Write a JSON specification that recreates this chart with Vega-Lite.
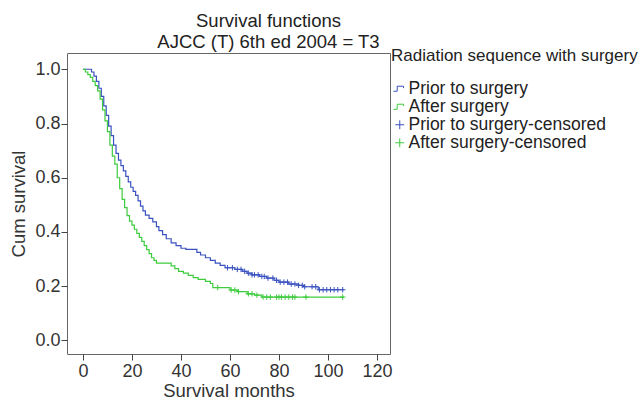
{
  "$schema": "https://vega.github.io/schema/vega-lite/v6.json",
  "autosize": {"type": "none"},
  "width": 323,
  "height": 301,
  "padding": {"left": 67, "top": 53, "right": 250, "bottom": 45},
  "background": "white",
  "config": {
    "font": "Liberation Sans",
    "view": {"stroke": "#666666", "strokeWidth": 1},
    "axis": {"grid": false, "domain": false, "tickColor": "#444444", "tickSize": 6, "labelColor": "#333333", "titleColor": "#333333", "labelFontSize": 18, "titleFontSize": 18.5, "titleFontWeight": "normal", "labelFont": "Liberation Sans", "titleFont": "Liberation Sans"}
  },
  "title": {
    "text": ["Survival functions", "AJCC (T) 6th ed 2004 = T3"],
    "fontSize": 18.5,
    "fontWeight": "normal",
    "color": "#222222",
    "lineHeight": 21,
    "anchor": "middle",
    "baseline": "bottom",
    "offset": 6,
    "dx": 40,
    "dy": 28
  },
  "datasets": {
    "curves": [
      {"series": "Prior to surgery", "t": 0, "s": 1.0},
      {"series": "Prior to surgery", "t": 3.5, "s": 0.99},
      {"series": "Prior to surgery", "t": 4.5, "s": 0.975},
      {"series": "Prior to surgery", "t": 5.5, "s": 0.955},
      {"series": "Prior to surgery", "t": 6.5, "s": 0.93},
      {"series": "Prior to surgery", "t": 7.5, "s": 0.9},
      {"series": "Prior to surgery", "t": 8.5, "s": 0.865},
      {"series": "Prior to surgery", "t": 9.5, "s": 0.83},
      {"series": "Prior to surgery", "t": 10.5, "s": 0.79},
      {"series": "Prior to surgery", "t": 11.5, "s": 0.755},
      {"series": "Prior to surgery", "t": 12.5, "s": 0.72},
      {"series": "Prior to surgery", "t": 13.5, "s": 0.69},
      {"series": "Prior to surgery", "t": 14.5, "s": 0.665},
      {"series": "Prior to surgery", "t": 15.5, "s": 0.645},
      {"series": "Prior to surgery", "t": 16.5, "s": 0.625},
      {"series": "Prior to surgery", "t": 17.5, "s": 0.605},
      {"series": "Prior to surgery", "t": 18.5, "s": 0.585},
      {"series": "Prior to surgery", "t": 19.5, "s": 0.565},
      {"series": "Prior to surgery", "t": 20.5, "s": 0.55},
      {"series": "Prior to surgery", "t": 21.5, "s": 0.535},
      {"series": "Prior to surgery", "t": 22.5, "s": 0.515},
      {"series": "Prior to surgery", "t": 23.5, "s": 0.495},
      {"series": "Prior to surgery", "t": 24.5, "s": 0.478},
      {"series": "Prior to surgery", "t": 25.5, "s": 0.462},
      {"series": "Prior to surgery", "t": 27, "s": 0.45},
      {"series": "Prior to surgery", "t": 28.5, "s": 0.437},
      {"series": "Prior to surgery", "t": 30, "s": 0.42},
      {"series": "Prior to surgery", "t": 31, "s": 0.405},
      {"series": "Prior to surgery", "t": 32.5, "s": 0.39},
      {"series": "Prior to surgery", "t": 34, "s": 0.375},
      {"series": "Prior to surgery", "t": 36, "s": 0.36},
      {"series": "Prior to surgery", "t": 38, "s": 0.35},
      {"series": "Prior to surgery", "t": 40, "s": 0.34},
      {"series": "Prior to surgery", "t": 42, "s": 0.336},
      {"series": "Prior to surgery", "t": 46.5, "s": 0.325},
      {"series": "Prior to surgery", "t": 48, "s": 0.315},
      {"series": "Prior to surgery", "t": 50, "s": 0.305},
      {"series": "Prior to surgery", "t": 52, "s": 0.295},
      {"series": "Prior to surgery", "t": 54, "s": 0.285},
      {"series": "Prior to surgery", "t": 56, "s": 0.277},
      {"series": "Prior to surgery", "t": 58, "s": 0.268},
      {"series": "Prior to surgery", "t": 62, "s": 0.262},
      {"series": "Prior to surgery", "t": 65, "s": 0.255},
      {"series": "Prior to surgery", "t": 67, "s": 0.248},
      {"series": "Prior to surgery", "t": 69, "s": 0.242},
      {"series": "Prior to surgery", "t": 72, "s": 0.236},
      {"series": "Prior to surgery", "t": 75, "s": 0.23},
      {"series": "Prior to surgery", "t": 78, "s": 0.222},
      {"series": "Prior to surgery", "t": 80, "s": 0.215},
      {"series": "Prior to surgery", "t": 84, "s": 0.208},
      {"series": "Prior to surgery", "t": 88, "s": 0.203},
      {"series": "Prior to surgery", "t": 90, "s": 0.198},
      {"series": "Prior to surgery", "t": 96, "s": 0.187},
      {"series": "Prior to surgery", "t": 106.5, "s": 0.187},
      {"series": "After surgery", "t": 0, "s": 1.0},
      {"series": "After surgery", "t": 1, "s": 0.99},
      {"series": "After surgery", "t": 2, "s": 0.98},
      {"series": "After surgery", "t": 3, "s": 0.97},
      {"series": "After surgery", "t": 4, "s": 0.955},
      {"series": "After surgery", "t": 5, "s": 0.94},
      {"series": "After surgery", "t": 6, "s": 0.92},
      {"series": "After surgery", "t": 7, "s": 0.89},
      {"series": "After surgery", "t": 8, "s": 0.85},
      {"series": "After surgery", "t": 9, "s": 0.81},
      {"series": "After surgery", "t": 10, "s": 0.77},
      {"series": "After surgery", "t": 11, "s": 0.72},
      {"series": "After surgery", "t": 12, "s": 0.68},
      {"series": "After surgery", "t": 13, "s": 0.65},
      {"series": "After surgery", "t": 14, "s": 0.6},
      {"series": "After surgery", "t": 15, "s": 0.56},
      {"series": "After surgery", "t": 16, "s": 0.52},
      {"series": "After surgery", "t": 17, "s": 0.49},
      {"series": "After surgery", "t": 18, "s": 0.46},
      {"series": "After surgery", "t": 19, "s": 0.44},
      {"series": "After surgery", "t": 20, "s": 0.425},
      {"series": "After surgery", "t": 21, "s": 0.41},
      {"series": "After surgery", "t": 22, "s": 0.395},
      {"series": "After surgery", "t": 23, "s": 0.38},
      {"series": "After surgery", "t": 24, "s": 0.365},
      {"series": "After surgery", "t": 25, "s": 0.35},
      {"series": "After surgery", "t": 26, "s": 0.335},
      {"series": "After surgery", "t": 27, "s": 0.32},
      {"series": "After surgery", "t": 28, "s": 0.305},
      {"series": "After surgery", "t": 29, "s": 0.295},
      {"series": "After surgery", "t": 30, "s": 0.285},
      {"series": "After surgery", "t": 36, "s": 0.275},
      {"series": "After surgery", "t": 37.5, "s": 0.265},
      {"series": "After surgery", "t": 39, "s": 0.255},
      {"series": "After surgery", "t": 41, "s": 0.248},
      {"series": "After surgery", "t": 43, "s": 0.24},
      {"series": "After surgery", "t": 45, "s": 0.232},
      {"series": "After surgery", "t": 47, "s": 0.225},
      {"series": "After surgery", "t": 50, "s": 0.218},
      {"series": "After surgery", "t": 52, "s": 0.21},
      {"series": "After surgery", "t": 53, "s": 0.195},
      {"series": "After surgery", "t": 60, "s": 0.186},
      {"series": "After surgery", "t": 63, "s": 0.18},
      {"series": "After surgery", "t": 67, "s": 0.172},
      {"series": "After surgery", "t": 70, "s": 0.167},
      {"series": "After surgery", "t": 73, "s": 0.16},
      {"series": "After surgery", "t": 106.5, "s": 0.16}
    ],
    "censored": [
      {"series": "Prior to surgery-censored", "t": 59, "s": 0.268},
      {"series": "Prior to surgery-censored", "t": 61, "s": 0.268},
      {"series": "Prior to surgery-censored", "t": 63, "s": 0.262},
      {"series": "Prior to surgery-censored", "t": 64.5, "s": 0.262},
      {"series": "Prior to surgery-censored", "t": 66, "s": 0.255},
      {"series": "Prior to surgery-censored", "t": 67.5, "s": 0.248},
      {"series": "Prior to surgery-censored", "t": 69, "s": 0.242},
      {"series": "Prior to surgery-censored", "t": 70, "s": 0.242},
      {"series": "Prior to surgery-censored", "t": 71.5, "s": 0.242},
      {"series": "Prior to surgery-censored", "t": 73, "s": 0.236},
      {"series": "Prior to surgery-censored", "t": 74, "s": 0.236},
      {"series": "Prior to surgery-censored", "t": 75.5, "s": 0.23},
      {"series": "Prior to surgery-censored", "t": 77.5, "s": 0.23},
      {"series": "Prior to surgery-censored", "t": 79, "s": 0.222},
      {"series": "Prior to surgery-censored", "t": 80.5, "s": 0.215},
      {"series": "Prior to surgery-censored", "t": 82, "s": 0.215},
      {"series": "Prior to surgery-censored", "t": 83.5, "s": 0.215},
      {"series": "Prior to surgery-censored", "t": 85, "s": 0.208},
      {"series": "Prior to surgery-censored", "t": 86.5, "s": 0.208},
      {"series": "Prior to surgery-censored", "t": 88, "s": 0.203},
      {"series": "Prior to surgery-censored", "t": 89.5, "s": 0.203},
      {"series": "Prior to surgery-censored", "t": 90.5, "s": 0.198},
      {"series": "Prior to surgery-censored", "t": 93.5, "s": 0.198},
      {"series": "Prior to surgery-censored", "t": 95, "s": 0.198},
      {"series": "Prior to surgery-censored", "t": 96.5, "s": 0.187},
      {"series": "Prior to surgery-censored", "t": 98, "s": 0.187},
      {"series": "Prior to surgery-censored", "t": 99.5, "s": 0.187},
      {"series": "Prior to surgery-censored", "t": 101, "s": 0.187},
      {"series": "Prior to surgery-censored", "t": 102.5, "s": 0.187},
      {"series": "Prior to surgery-censored", "t": 104, "s": 0.187},
      {"series": "Prior to surgery-censored", "t": 106, "s": 0.187},
      {"series": "After surgery-censored", "t": 55, "s": 0.195},
      {"series": "After surgery-censored", "t": 60.5, "s": 0.186},
      {"series": "After surgery-censored", "t": 62, "s": 0.186},
      {"series": "After surgery-censored", "t": 63.5, "s": 0.18},
      {"series": "After surgery-censored", "t": 67.5, "s": 0.172},
      {"series": "After surgery-censored", "t": 69, "s": 0.172},
      {"series": "After surgery-censored", "t": 71, "s": 0.167},
      {"series": "After surgery-censored", "t": 73.5, "s": 0.16},
      {"series": "After surgery-censored", "t": 75, "s": 0.16},
      {"series": "After surgery-censored", "t": 76.5, "s": 0.16},
      {"series": "After surgery-censored", "t": 79, "s": 0.16},
      {"series": "After surgery-censored", "t": 80, "s": 0.16},
      {"series": "After surgery-censored", "t": 81, "s": 0.16},
      {"series": "After surgery-censored", "t": 82.5, "s": 0.16},
      {"series": "After surgery-censored", "t": 84, "s": 0.16},
      {"series": "After surgery-censored", "t": 85.5, "s": 0.16},
      {"series": "After surgery-censored", "t": 86.5, "s": 0.16},
      {"series": "After surgery-censored", "t": 91, "s": 0.16},
      {"series": "After surgery-censored", "t": 106, "s": 0.16}
    ]
  },
  "encoding": {
    "x": {"field": "t", "type": "quantitative", "scale": {"domain": [-6.5, 125.3], "nice": false, "zero": false},
      "axis": {"values": [0, 20, 40, 60, 80, 100, 120], "title": "Survival months", "titlePadding": 1, "labelPadding": 2}},
    "y": {"field": "s", "type": "quantitative", "scale": {"domain": [-0.05, 1.06], "nice": false, "zero": false},
      "axis": {"values": [0, 0.2, 0.4, 0.6, 0.8, 1.0], "format": ".1f", "title": "Cum survival", "titlePadding": 6, "labelPadding": 1}},
    "color": {"field": "series", "type": "nominal",
      "scale": {"domain": ["Prior to surgery", "After surgery", "Prior to surgery-censored", "After surgery-censored"], "range": ["#3a52c0", "#3ecb3e", "#3a52c0", "#3ecb3e"]},
      "legend": {
        "title": "Radiation sequence with surgery",
        "orient": "none", "legendX": 324, "legendY": -5,
        "titleFontSize": 17, "titleFontWeight": "normal", "titleColor": "#222222", "titleFont": "Liberation Sans",
        "titlePadding": 15, "titleBaseline": "top", "titleLimit": 400,
        "labelFontSize": 17.5, "labelColor": "#222222", "labelFont": "Liberation Sans", "labelLimit": 400,
        "rowPadding": -13, "labelOffset": 0, "padding": 0, "symbolSize": 160, "symbolStrokeWidth": 1,
        "symbolOffset": 0,
        "encode": {"symbols": {"update": {
          "shape": {"signal": "indexof(datum.label,'censored')>=0 ? 'M-0.7,0H0.7M0,-0.7V0.7' : 'M-1,0.4H-0.4V-0.4H0.6V-0.1'"},
          "fill": {"value": "transparent"},
          "strokeWidth": {"value": 1}
        }}}
      }
    }
  },
  "layer": [
    {"data": {"name": "curves"}, "mark": {"type": "line", "interpolate": "step-after", "strokeWidth": 1.2}},
    {"data": {"name": "censored"}, "mark": {"type": "point", "shape": "M-1,0H1M0,-1V1", "filled": false, "size": 30, "strokeWidth": 1, "opacity": 1}}
  ]
}
